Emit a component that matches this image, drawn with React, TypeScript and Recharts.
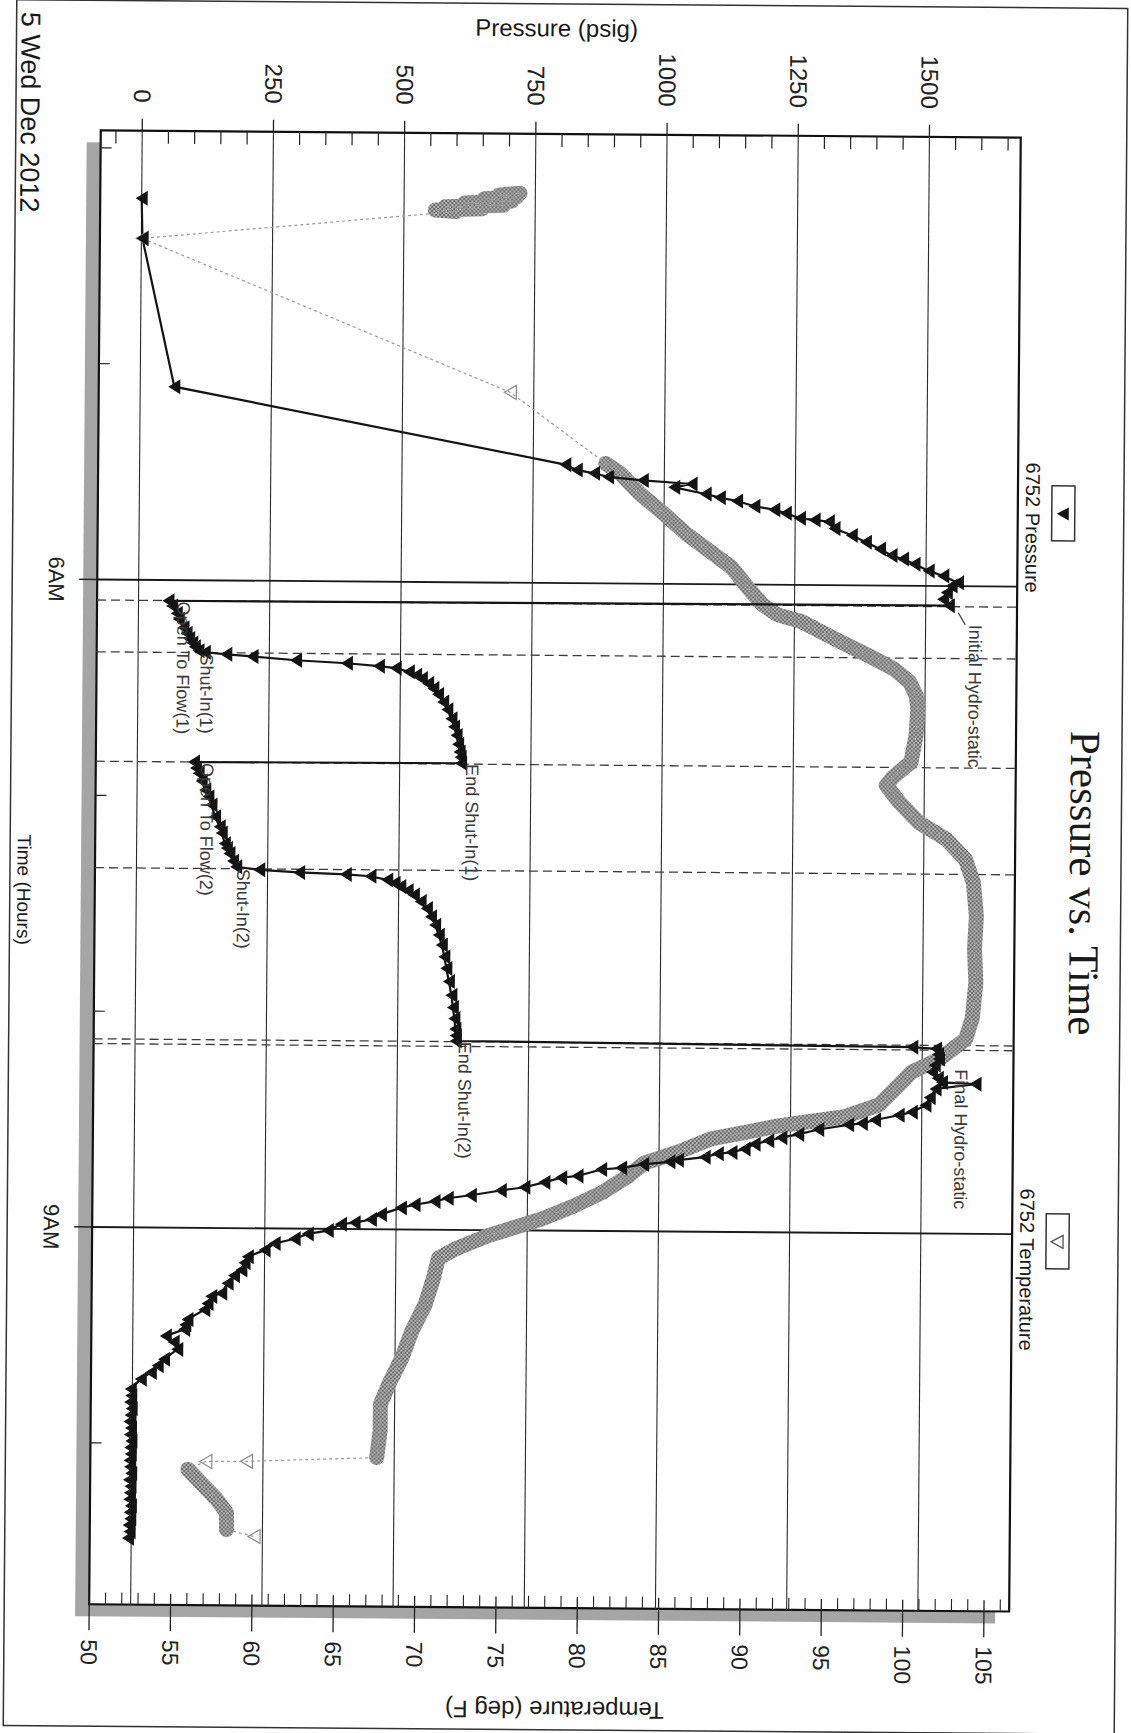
import React from 'react';
import { ComposedChart, Line, XAxis, YAxis, ReferenceLine, ReferenceArea } from 'recharts';

// ---------------- data ----------------
const pressureTimes = [
  4.232, 4.418, 5.104, 5.451, 5.475, 5.49, 5.506, 5.521, 5.536, 5.552, 5.582, 5.598, 5.613, 5.637, 5.652,
  5.668, 5.691, 5.698, 5.706, 5.737, 5.768, 5.799, 5.83, 5.86, 5.876, 5.899, 5.93, 5.953, 5.984, 5.999,
  6.03, 6.061, 6.09,
  6.096, 6.12, 6.154, 6.18, 6.22, 6.246, 6.27, 6.29, 6.308, 6.326,
  6.333, 6.342, 6.351, 6.367, 6.379, 6.391, 6.4, 6.416, 6.432, 6.447, 6.47, 6.493, 6.52, 6.555, 6.59, 6.632, 6.67,
  6.709, 6.75, 6.786, 6.81, 6.838,
  6.842, 6.87, 6.894, 6.93, 6.971, 7.002, 7.04, 7.095, 7.141, 7.17, 7.219, 7.24, 7.265, 7.3, 7.326,
  7.339, 7.35, 7.357, 7.365, 7.381, 7.396, 7.411, 7.43, 7.45, 7.48, 7.512, 7.55, 7.589, 7.635, 7.681, 7.735, 7.789,
  7.85, 7.913, 7.97, 8.021, 8.07, 8.1, 8.125,
  8.137, 8.144, 8.17, 8.191, 8.22, 8.252, 8.28, 8.299, 8.306, 8.33, 8.37, 8.406, 8.438, 8.453, 8.476, 8.492, 8.499, 8.522,
  8.545, 8.561, 8.576, 8.592, 8.615, 8.631, 8.638, 8.654, 8.669, 8.677, 8.69, 8.707, 8.715, 8.746,
  8.754, 8.777, 8.8, 8.816, 8.839, 8.854, 8.869, 8.885, 8.9, 8.931, 8.955, 8.97, 8.978, 9.008, 9.024,
  9.047, 9.07, 9.101, 9.132, 9.16, 9.194, 9.22, 9.256, 9.302, 9.317, 9.35, 9.379, 9.425, 9.45, 9.471, 9.502, 9.53, 9.564, 9.61,
  9.64, 9.672, 9.703, 9.749,
  9.78, 9.81, 9.84, 9.87, 9.9, 9.93, 9.96, 9.99, 10.02, 10.05, 10.08, 10.11, 10.14, 10.17, 10.2, 10.23,
  10.26, 10.29, 10.32, 10.35, 10.38, 10.41, 10.44,
];
const pressureValues = [
  0, 2, 65, 811, 833, 866, 893, 959, 1052, 1019, 1079, 1106, 1139, 1172, 1210,
  1232, 1259, 1287, 1314, 1325, 1358, 1385, 1412, 1434, 1456, 1478, 1505, 1533, 1561, 1549,
  1540, 1533, 1544,
  57, 64, 73, 77, 86, 92, 97, 103, 108, 115,
  127, 168, 218, 301, 398, 459, 491, 516, 530, 541, 553, 563, 572, 582, 590, 598, 603,
  608, 611, 614, 616, 617,
  108, 112, 117, 123, 130, 136, 142, 149, 158, 162, 168, 172, 177, 184, 190,
  234, 310, 399, 446, 478, 492, 503, 517, 529, 542, 554, 562, 570, 577, 583, 588, 592,
  597, 602, 605, 608, 610, 611, 611,
  1481, 1526, 1530, 1532, 1524, 1519, 1530, 1538, 1602, 1526, 1515, 1507, 1481, 1456, 1411, 1386, 1360, 1303,
  1265, 1233, 1208, 1182, 1163, 1138, 1112, 1087, 1036, 1020, 970, 928, 890, 845,
  814, 782, 744, 699, 642, 598, 573, 535, 509, 471, 452, 421, 395, 370, 332,
  307, 269, 250, 218, 212, 206, 192, 180, 168, 149, 142, 136, 104, 100, 98, 63, 78, 85, 60,
  48, 35, 16, -3,
  -2, -4, -1, -3, -5, -2, -4, -1, -3, -2, -4, -3, -1, -5, -2, -3,
  -4, -1, -3, -2, -5, -3, -6,
];

const temperatureTimes = [
  4.195, 4.205, 4.212, 4.222, 4.232, 4.242, 4.252, 4.26, 4.268, 4.276, 4.282,
  4.418, 5.118,
  5.444, 5.49, 5.582, 5.675, 5.768, 5.845, 5.922, 6.015, 6.092, 6.138, 6.169, 6.246, 6.323, 6.385,
  6.447, 6.51, 6.57, 6.694, 6.817, 6.887, 6.925, 7.002, 7.095, 7.172, 7.265, 7.373, 7.527, 7.68,
  7.836, 8.0, 8.098, 8.191, 8.252, 8.33, 8.406, 8.461, 8.484, 8.507, 8.538, 8.569, 8.631, 8.684,
  8.746, 8.823, 8.885, 8.947, 8.993, 9.024, 9.055, 9.086, 9.132, 9.225, 9.348, 9.471, 9.595, 9.719,
  9.811, 9.934, 10.058,
  10.08, 10.082,
  10.119, 10.181, 10.258, 10.32, 10.397,
  10.428,
];
const temperatureValues = [
  75.8, 74.5, 75.6, 73.6, 75.3, 72.4, 74.8, 71.2, 73.5, 70.6, 71.9,
  52.6, 75.3,
  81.2, 82.1, 83.3, 84.8, 86.2, 87.6, 89.0, 90.0, 90.9, 91.8, 93.3, 95.3, 97.4, 99.0,
  100.0, 100.4, 100.5, 100.4, 100.1, 99.0, 98.6, 99.4, 100.6, 102.3, 103.5, 104.0, 104.2, 104.1,
  104.2, 104.0, 103.6, 102.0, 100.3, 99.3, 98.3, 96.2, 94.2, 92.1, 90.1, 88.0, 86.0, 83.9,
  82.9, 81.3, 79.6, 77.6, 75.7, 74.4, 73.4, 72.4, 71.3, 71.0, 70.5, 69.7, 69.1, 68.3,
  67.8, 67.8, 67.6,
  59.6, 57.1,
  56.0, 56.8, 57.8, 58.4, 58.4,
  60.1,
];

const eventNames = [
  'Initial Hydro-static', 'Open To Flow(1)', 'Shut-In(1)', 'End Shut-In(1)',
  'Open To Flow(2)', 'Shut-In(2)', 'End Shut-In(2)', 'Final Hydro-static',
];
const eventTimes = [6.095, 6.095, 6.335, 6.842, 6.842, 7.335, 8.128, 8.15];
const eventPressures = [1545, 57, 117, 617, 108, 190, 611, 1540];
const eventLineTimes = [6.095, 6.335, 6.842, 7.335, 8.128, 8.15];

const pressureGridValues = [0, 250, 500, 750, 1000, 1250, 1500];
const temperatureLabelValues = [50, 55, 60, 65, 70, 75, 80, 85, 90, 95, 100, 105];
const timeMajorValues = [6, 9];
const timeMajorLabels = ['6AM', '9AM'];
const hourTicks = [4, 5, 6, 7, 8, 9, 10];

const seriesNames = ['6752 Pressure', '6752 Temperature'];

// ---------------- layout / style ----------------
const W = 1733;
const H = 1131;
const PLOT = { left: 134, right: 1608, top: 116, bottom: 1036 };
const TIME_DOMAIN = [3.919, 10.748];
const PRESSURE_DOMAIN = [-79, 1674];
const TEMP_DOMAIN = [50, 106.55];
const SCAN_TILT_DEG = 0.45;
const SANS = '"Liberation Sans", Arial, Helvetica, sans-serif';
const SERIF = '"Liberation Serif", "Times New Roman", serif';
const TEMP_BAND_SPANS = [[4.19, 4.29], [5.44, 10.06], [10.11, 10.4]];
const LABEL_OFFSETS = [[18, -20], [1, -9], [1, -1], [0, -5], [1, -7], [0, -1], [0, -3], [19, -12]];
const LABEL_LEADERS = [[6, -9, 18, -16], null, null, null, null, null, null, null];

const range = (a: number, b: number, s: number) => {
  const r: number[] = [];
  for (let v = a; v <= b + 1e-9; v += s) r.push(Math.round(v * 1000) / 1000);
  return r;
};
const pressureTicks = range(-50, 1650, 50);
const temperatureTicks = range(50, 106, 1);

const pressureData = pressureTimes.map((t, i) => ({ t, p: pressureValues[i] }));
const temperatureData = temperatureTimes.map((t, i) => ({ t, T: temperatureValues[i] }));
const inBand = (t: number) => TEMP_BAND_SPANS.some(([a, b]) => t >= a - 1e-9 && t <= b + 1e-9);
const temperatureBandData = temperatureData.map((d) => ({ t: d.t, T: inBand(d.t) ? d.T : null }));
const eventData = eventTimes.map((t, i) => ({ t, p: eventPressures[i], name: eventNames[i] }));

// ---------------- renderers ----------------
const PressureTick = (props: any) => {
  const { y, payload } = props;
  const v = payload.value;
  if (pressureGridValues.includes(v)) {
    return (
      <g>
        <line x1={PLOT.left - 12} x2={PLOT.left} y1={y} y2={y} stroke="#222" strokeWidth={1.3} />
        <text x={106} y={y} textAnchor="end" dominantBaseline="central" fontSize={24} fontFamily={SANS} fill="#222">
          {v}
        </text>
      </g>
    );
  }
  return <line x1={PLOT.left} x2={PLOT.left + 13} y1={y} y2={y} stroke="#222" strokeWidth={1.2} />;
};

const TemperatureTick = (props: any) => {
  const { y, payload } = props;
  const v = payload.value;
  if (temperatureLabelValues.includes(v)) {
    return (
      <g>
        <line x1={PLOT.right - 11} x2={PLOT.right + 26} y1={y} y2={y} stroke="#222" strokeWidth={1.3} />
        <text x={1643} y={y} textAnchor="start" dominantBaseline="central" fontSize={23} fontFamily={SANS} fill="#222">
          {v}
        </text>
      </g>
    );
  }
  return <line x1={PLOT.right - 12} x2={PLOT.right} y1={y} y2={y} stroke="#222" strokeWidth={1.1} />;
};

const TimeTick = (props: any) => {
  const { x, payload } = props;
  const v = payload.value;
  const mi = timeMajorValues.indexOf(v);
  if (mi >= 0) {
    return (
      <g>
        <line x1={x} x2={x} y1={PLOT.bottom} y2={PLOT.bottom + 18} stroke="#222" strokeWidth={1.5} />
        <text x={x} y={1077} textAnchor="middle" dominantBaseline="central" fontSize={22} fontFamily={SANS} fill="#222">
          {timeMajorLabels[mi]}
        </text>
      </g>
    );
  }
  return <line x1={x} x2={x} y1={PLOT.bottom - 11} y2={PLOT.bottom} stroke="#222" strokeWidth={1.2} />;
};

const renderPressureDot = (props: any) => {
  const { cx, cy, index } = props;
  if (cx == null || cy == null) return <g key={`pd-${index}`} />;
  return (
    <path key={`pd-${index}`} d={`M${cx - 7.5},${cy - 6}L${cx + 7.5},${cy - 6}L${cx},${cy + 6}Z`} fill="#141414" />
  );
};

const renderTemperatureDot = (props: any) => {
  const { cx, cy, index, payload } = props;
  if (cx == null || cy == null || inBand(payload.t)) return <g key={`td-${index}`} />;
  return (
    <path
      key={`td-${index}`}
      d={`M${cx - 7},${cy - 6}L${cx + 7},${cy - 6}L${cx},${cy + 6}Z`}
      fill="none"
      stroke="#8a8a8a"
      strokeWidth={1.2}
    />
  );
};

const renderEventLabel = (props: any) => {
  const { cx, cy, index, payload } = props;
  if (cx == null || cy == null) return <g key={`el-${index}`} />;
  const [dx, dy] = LABEL_OFFSETS[index];
  const leader = LABEL_LEADERS[index];
  return (
    <g key={`el-${index}`}>
      {leader && (
        <line x1={cx + leader[0]} y1={cy + leader[1]} x2={cx + leader[2]} y2={cy + leader[3]} stroke="#333" strokeWidth={1.2} />
      )}
      <text x={cx + dx} y={cy + dy} fontSize={18} fontFamily={SANS} fill="#3a3a3a">
        {payload.name}
      </text>
    </g>
  );
};

const Landscape = () => (
  <div style={{ position: 'absolute', left: 0, top: 0, width: W, height: H, background: '#fff' }}>
    <svg width={0} height={0} style={{ position: 'absolute' }}>
      <defs>
        <pattern id="tempHatch" patternUnits="userSpaceOnUse" width="4" height="4">
          <rect width="4" height="4" fill="#b4b4b4" />
          <path d="M0,4L4,0M0,0L4,4" stroke="#646464" strokeWidth="0.9" />
        </pattern>
      </defs>
    </svg>
    {/* frame shadow */}
    <div
      style={{
        position: 'absolute',
        left: PLOT.left + 12,
        top: PLOT.top + 14,
        width: PLOT.right - PLOT.left,
        height: PLOT.bottom - PLOT.top,
        background: '#a5a5a5',
      }}
    />
    <div
      style={{
        position: 'absolute',
        left: PLOT.left,
        top: PLOT.top,
        width: PLOT.right - PLOT.left,
        height: PLOT.bottom - PLOT.top,
        background: '#fff',
      }}
    />
    <div style={{ position: 'absolute', left: 0, top: 0 }}>
      <ComposedChart
        width={W}
        height={H}
        margin={{ top: PLOT.top, left: PLOT.left - 100, right: W - PLOT.right - 100, bottom: H - PLOT.bottom - 60 }}
      >
        <XAxis
          type="number"
          dataKey="t"
          domain={TIME_DOMAIN}
          allowDataOverflow
          ticks={hourTicks}
          interval={0}
          height={60}
          tickLine={false}
          axisLine={false}
          tick={TimeTick}
        />
        <YAxis
          yAxisId="p"
          type="number"
          orientation="left"
          width={100}
          domain={PRESSURE_DOMAIN}
          allowDataOverflow
          ticks={pressureTicks}
          interval={0}
          tickLine={false}
          axisLine={false}
          tick={PressureTick}
        />
        <YAxis
          yAxisId="T"
          type="number"
          orientation="right"
          width={100}
          domain={TEMP_DOMAIN}
          allowDataOverflow
          ticks={temperatureTicks}
          interval={0}
          tickLine={false}
          axisLine={false}
          tick={TemperatureTick}
        />
        {pressureGridValues.map((v) => (
          <ReferenceLine key={`pg-${v}`} yAxisId="p" y={v} stroke="#2a2a2a" strokeWidth={1.1} />
        ))}
        {timeMajorValues.map((v) => (
          <ReferenceLine key={`tg-${v}`} yAxisId="p" x={v} stroke="#1a1a1a" strokeWidth={1.8} />
        ))}
        {eventLineTimes.map((v) => (
          <ReferenceLine key={`ev-${v}`} yAxisId="p" x={v} stroke="#3c3c3c" strokeWidth={1.3} strokeDasharray="9 5" />
        ))}
        <ReferenceArea
          yAxisId="p"
          x1={TIME_DOMAIN[0]}
          x2={TIME_DOMAIN[1]}
          y1={PRESSURE_DOMAIN[0]}
          y2={PRESSURE_DOMAIN[1]}
          fill="none"
          fillOpacity={0}
          stroke="#111"
          strokeWidth={2.2}
        />
        <Line
          yAxisId="T"
          data={temperatureBandData}
          dataKey="T"
          stroke="url(#tempHatch)"
          strokeWidth={15}
          strokeLinejoin="round"
          strokeLinecap="round"
          connectNulls={false}
          dot={false}
          activeDot={false}
          isAnimationActive={false}
          legendType="none"
        />
        <Line
          yAxisId="T"
          data={temperatureData}
          dataKey="T"
          name={seriesNames[1]}
          stroke="#9a9a9a"
          strokeWidth={1.2}
          strokeDasharray="3 3"
          dot={renderTemperatureDot}
          activeDot={false}
          isAnimationActive={false}
        />
        <Line
          yAxisId="p"
          data={pressureData}
          dataKey="p"
          name={seriesNames[0]}
          stroke="#141414"
          strokeWidth={2.2}
          dot={renderPressureDot}
          activeDot={false}
          isAnimationActive={false}
        />
        <Line
          yAxisId="p"
          data={eventData}
          dataKey="p"
          stroke="none"
          dot={renderEventLabel}
          activeDot={false}
          isAnimationActive={false}
          legendType="none"
        />
      </ComposedChart>
    </div>
    {/* titles, legend, border */}
    <svg width={W} height={H} style={{ position: 'absolute', left: 0, top: 0, pointerEvents: 'none' }}>
      <rect x={4} y={10} width={1726} height={1111} fill="none" stroke="#333" strokeWidth={1.5} />
      <text x={879} y={61} textAnchor="middle" fontSize={43} fontFamily={SERIF} fill="#1a1a1a">
        Pressure vs. Time
      </text>
      <rect x={482} y={59} width={55} height={23} fill="none" stroke="#333" strokeWidth={1.5} />
      <path d="M503.5,65L516.5,65L510,77Z" fill="#141414" />
      <text x={459} y={108} fontSize={20} fontFamily={SANS} fill="#1a1a1a">
        {seriesNames[0]}
      </text>
      <rect x={1210} y={59} width={55} height={23} fill="none" stroke="#333" strokeWidth={1.5} />
      <path d="M1231.5,65L1244.5,65L1238,77Z" fill="none" stroke="#555" strokeWidth={1.3} />
      <text x={1185} y={108} fontSize={20} fontFamily={SANS} fill="#1a1a1a">
        {seriesNames[1]}
      </text>
      <text
        transform="translate(28,581) rotate(-90)"
        textAnchor="middle"
        dominantBaseline="central"
        fontSize={24}
        fontFamily={SANS}
        fill="#1a1a1a"
      >
        Pressure (psig)
      </text>
      <text
        transform="translate(1710,570) rotate(90)"
        textAnchor="middle"
        dominantBaseline="central"
        fontSize={24}
        fontFamily={SANS}
        fill="#1a1a1a"
      >
        Temperature (deg F)
      </text>
      <text x={894} y={1107} textAnchor="middle" dominantBaseline="central" fontSize={19} fontFamily={SANS} fill="#1a1a1a">
        Time (Hours)
      </text>
      <text x={16} y={1107} textAnchor="start" dominantBaseline="central" fontSize={27} fontFamily={SANS} fill="#1a1a1a">
        5 Wed Dec 2012
      </text>
    </svg>
  </div>
);

export default function App() {
  return (
    <div style={{ position: 'absolute', left: 0, top: 0, width: H, height: W, overflow: 'hidden', background: '#fff' }}>
      <div
        style={{
          position: 'absolute',
          left: 0,
          top: 0,
          width: H,
          height: W,
          transformOrigin: `${H / 2}px ${W / 2}px`,
          transform: `rotate(${SCAN_TILT_DEG}deg)`,
        }}
      >
        <div
          style={{
            position: 'absolute',
            left: 0,
            top: 0,
            width: W,
            height: H,
            transformOrigin: '0 0',
            transform: `translate(${H}px, 0px) rotate(90deg)`,
          }}
        >
          <Landscape />
        </div>
      </div>
    </div>
  );
}
